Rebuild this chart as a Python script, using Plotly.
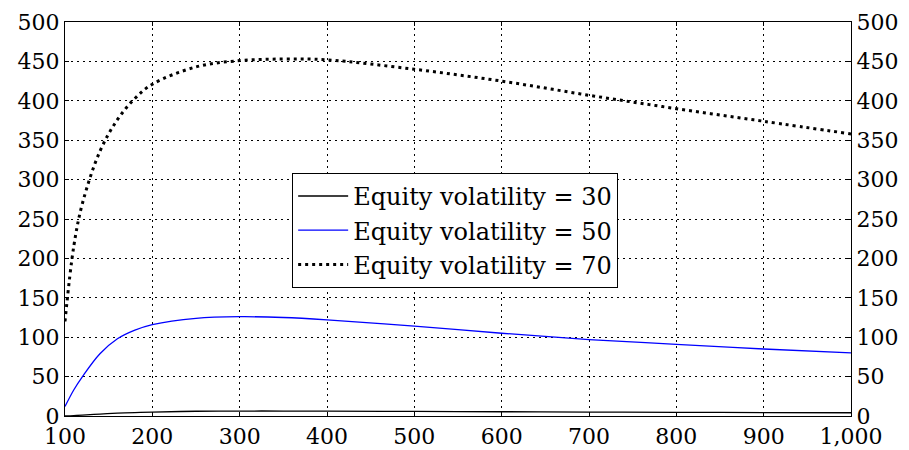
import plotly.graph_objects as go

x_vals = [100, 110, 120, 140, 160, 180, 200, 250, 300, 350, 400, 500, 600, 700, 800, 900, 1000]
vol30 = [0, 0.5, 1.2, 2.5, 3.6, 4.4, 5.0, 6.0, 6.3, 6.3, 6.2, 5.8, 5.4, 5.0, 4.7, 4.4, 4.1]
vol50 = [12, 33, 50, 79, 98, 109, 116, 124, 126, 125, 122, 114, 105, 97, 91, 85, 80]
vol70 = [120, 215, 270, 336, 376, 403, 421, 443, 451, 453, 452, 440, 425, 407, 390, 374, 358]

x_ticks = [100, 200, 300, 400, 500, 600, 700, 800, 900, 1000]
x_labels = ["100", "200", "300", "400", "500", "600", "700", "800", "900", "1,000"]
y_ticks = [0, 50, 100, 150, 200, 250, 300, 350, 400, 450, 500]

FONT = "DejaVu Serif"

fig = go.Figure()
fig.add_trace(go.Scatter(x=x_vals, y=vol30, mode="lines", name="Equity volatility = 30",
                         line=dict(color="black", width=1.3, shape="spline")))
fig.add_trace(go.Scatter(x=x_vals, y=vol50, mode="lines", name="Equity volatility = 50",
                         line=dict(color="#0000ff", width=1.3, shape="spline")))
fig.add_trace(go.Scatter(x=x_vals, y=vol70, mode="lines", name="Equity volatility = 70",
                         line=dict(color="black", width=3, dash="3px,4px", shape="spline")))
# invisible trace for right axis
fig.add_trace(go.Scatter(x=[x_vals[0]], y=[y_ticks[0]], yaxis="y2", mode="markers",
                         marker=dict(opacity=0), showlegend=False, hoverinfo="skip"))

fig.update_layout(
    width=893, height=442,
    margin=dict(l=57, r=50, t=14, b=34),
    plot_bgcolor="white", paper_bgcolor="white",
    font=dict(family=FONT, size=22, color="black"),
    xaxis=dict(range=[100, 1000], tickvals=x_ticks, ticktext=x_labels, automargin=False,
               showgrid=True, gridcolor="black", gridwidth=1, griddash="2px,4px",
               showline=True, linecolor="black", linewidth=1.2, mirror="ticks",
               ticks="inside", ticklen=4, tickcolor="black", zeroline=False,
               tickfont=dict(family=FONT, size=22)),
    yaxis=dict(range=[0, 500], tickvals=y_ticks, automargin=False,
               showgrid=True, gridcolor="black", gridwidth=1, griddash="2px,4px",
               showline=True, linecolor="black", linewidth=1.2, mirror=True,
               ticks="inside", ticklen=4, tickcolor="black", zeroline=False,
               tickfont=dict(family=FONT, size=22)),
    yaxis2=dict(range=[0, 500], tickvals=y_ticks, overlaying="y", side="right", automargin=False,
                showgrid=False, showline=True, linecolor="black", linewidth=1.2,
                ticks="inside", ticklen=4, tickcolor="black", zeroline=False,
                tickfont=dict(family=FONT, size=22)),
    legend=dict(x=0.289, y=0.617, xanchor="left", yanchor="top",
                bgcolor="white", bordercolor="black", borderwidth=1,
                font=dict(family=FONT, size=24), tracegroupgap=0, itemwidth=50),
    showlegend=True,
)

fig.write_html("out.html")
